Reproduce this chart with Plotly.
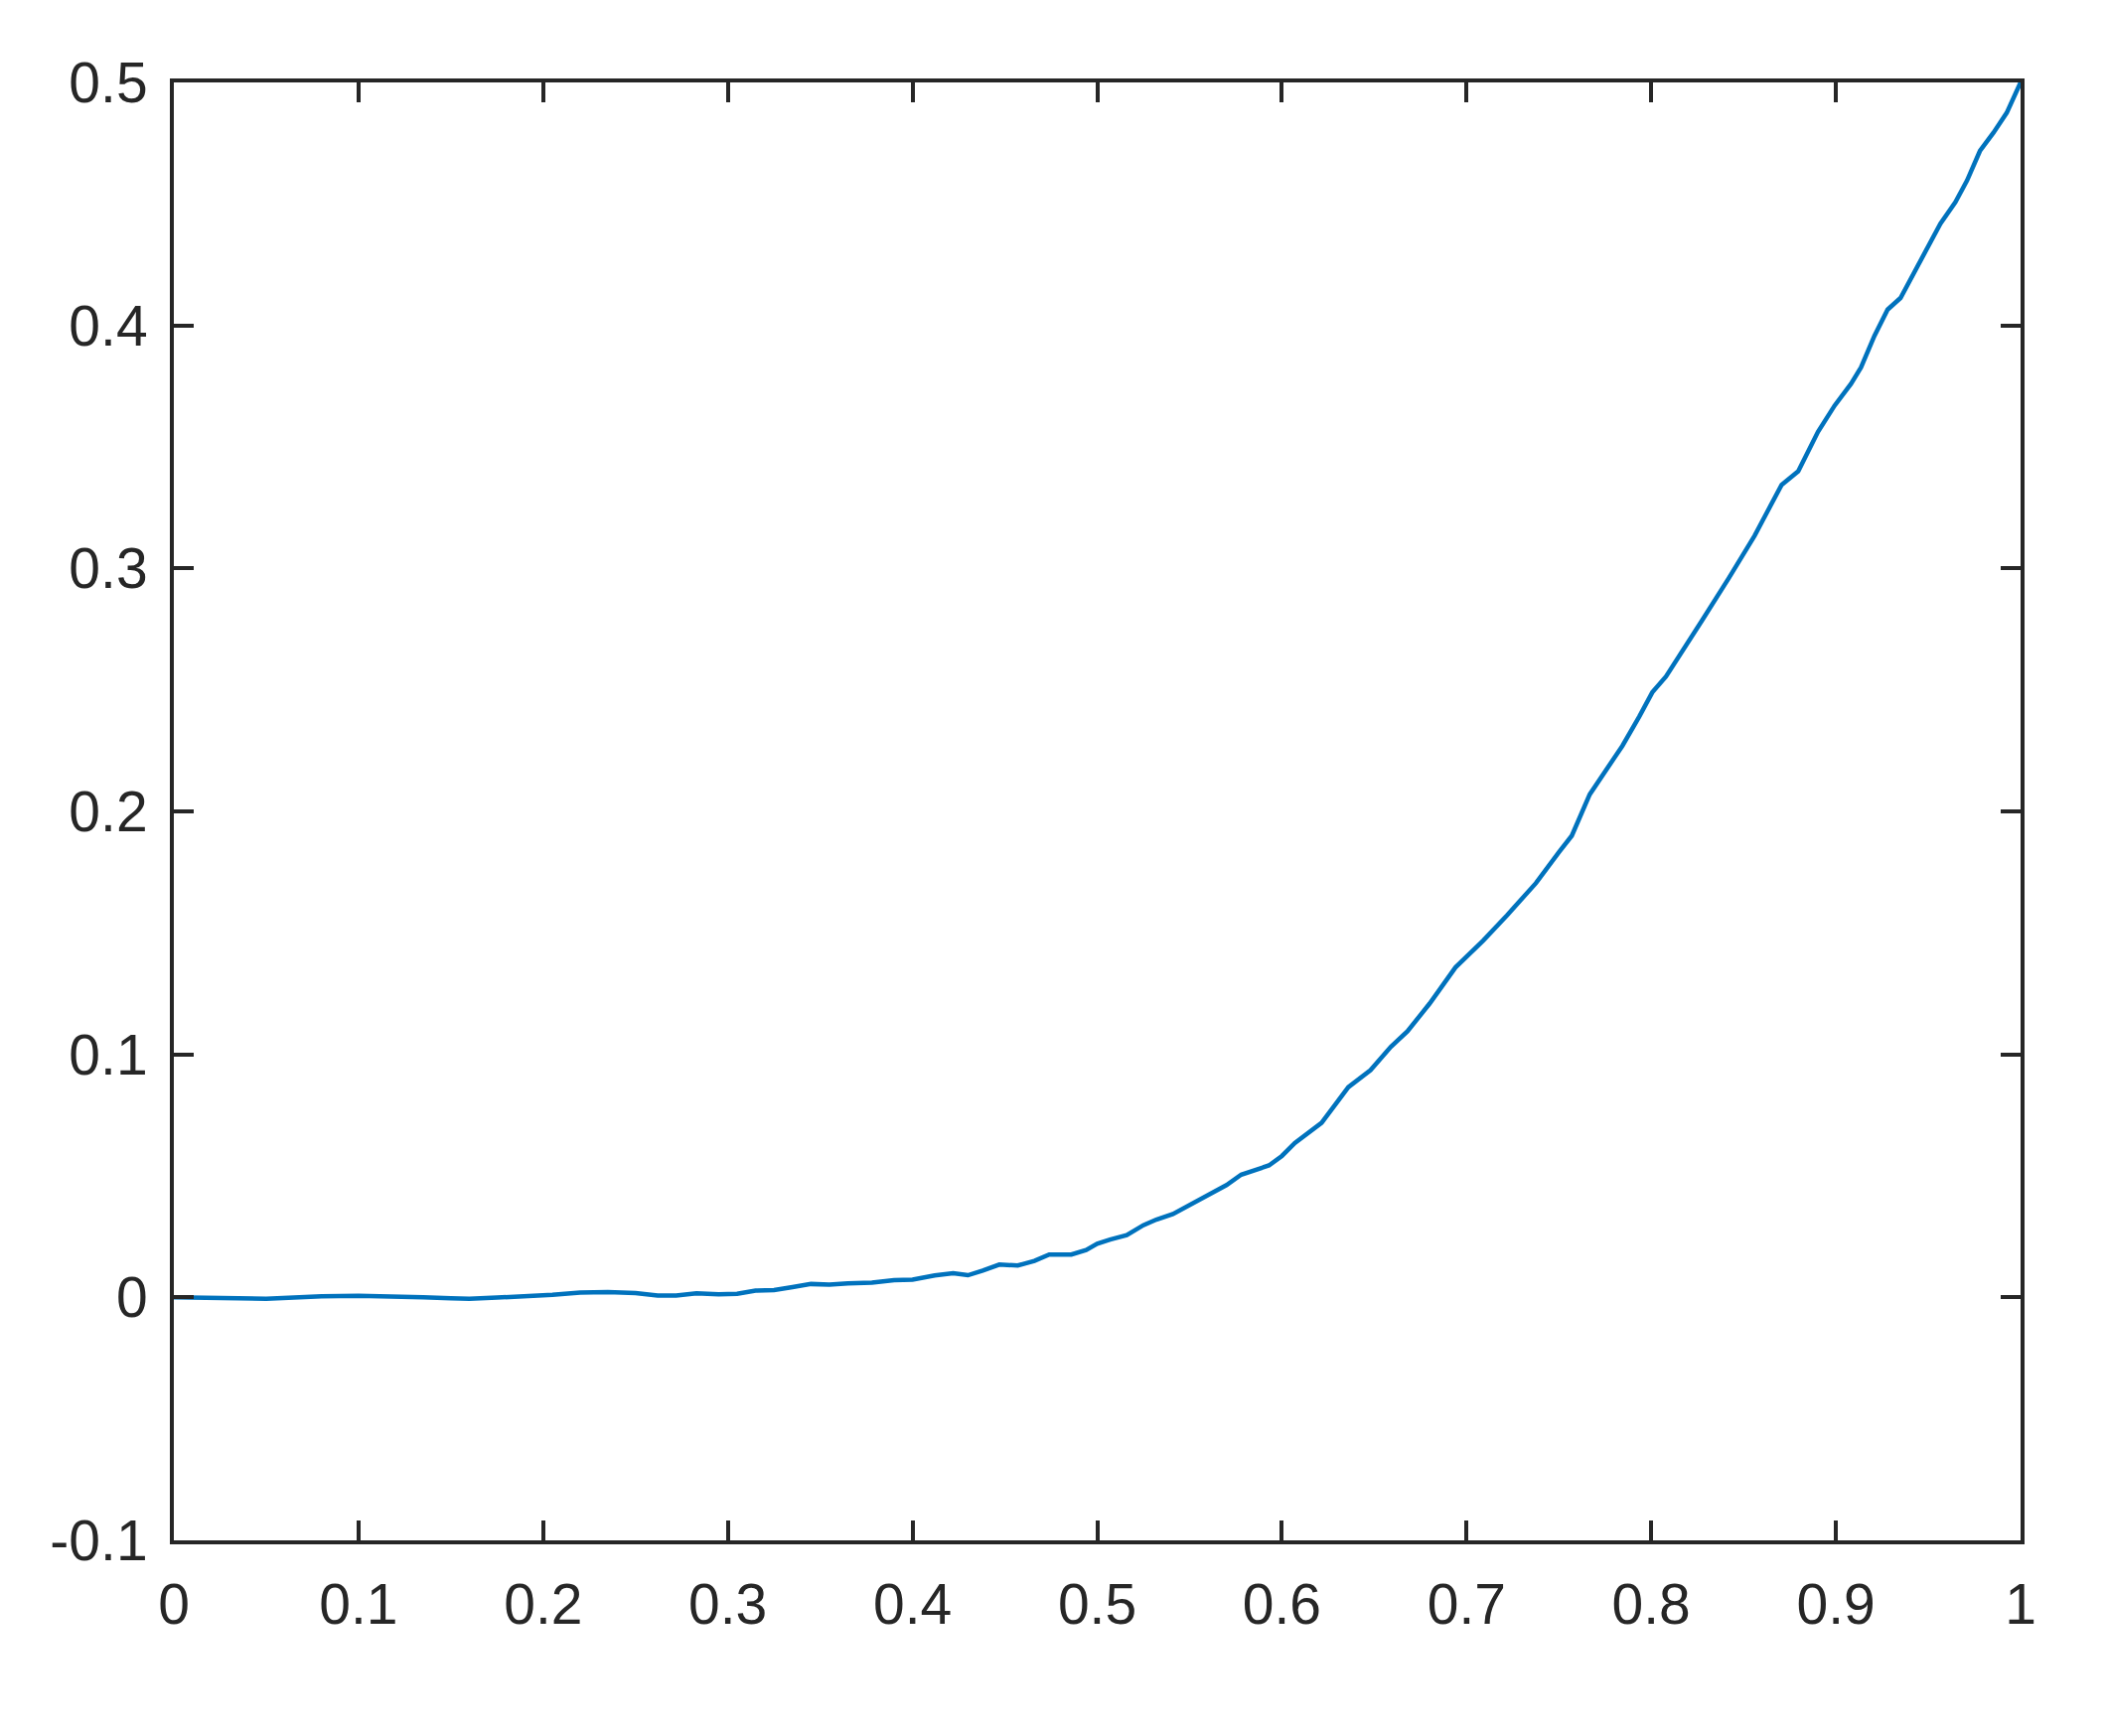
import plotly.graph_objects as go

# Curve values
x_vals = [0.0, 0.02, 0.035, 0.05, 0.065, 0.08, 0.1, 0.12, 0.135, 0.15,
          0.16, 0.175, 0.19, 0.205, 0.22, 0.235, 0.25, 0.262, 0.272, 0.283,
          0.295, 0.305, 0.315, 0.325, 0.335, 0.345, 0.355, 0.365, 0.378, 0.39,
          0.4, 0.412, 0.422, 0.43, 0.438, 0.447, 0.457, 0.466, 0.474, 0.486,
          0.494, 0.5, 0.507, 0.516, 0.525, 0.532, 0.541, 0.55, 0.562, 0.57,
          0.578, 0.593, 0.6, 0.607, 0.6215, 0.636, 0.648, 0.659, 0.668, 0.68,
          0.694, 0.709, 0.722, 0.7376, 0.75, 0.757, 0.7667, 0.7738, 0.7844, 0.7935,
          0.8006, 0.808, 0.818, 0.8276, 0.842, 0.856, 0.8706, 0.8796, 0.8903, 0.8993,
          0.9082, 0.9136, 0.9208, 0.928, 0.935, 0.944, 0.9504, 0.9566, 0.9647, 0.971,
          0.978, 0.9853, 0.9925, 1.0]
y_vals = [0.0, -0.0002, -0.0007, -0.0006, -0.0001, 0.0004, 0.0006, 0.0005, 0.0, -0.0004,
          -0.0006, -0.0001, 0.0003, 0.0011, 0.002, 0.0022, 0.0018, 0.0008, 0.0008, 0.0017,
          0.0013, 0.0015, 0.0028, 0.003, 0.0042, 0.0055, 0.0052, 0.0058, 0.0061, 0.0071,
          0.0073, 0.009, 0.0099, 0.0091, 0.011, 0.0135, 0.0131, 0.015, 0.0176, 0.0176,
          0.0195, 0.0221, 0.0238, 0.0256, 0.0297, 0.032, 0.0343, 0.038, 0.0425, 0.0462,
          0.0505, 0.0543, 0.0582, 0.0635, 0.0718, 0.0865, 0.0935, 0.1031, 0.1095, 0.1209,
          0.1358, 0.1468, 0.1573, 0.1705, 0.1832, 0.19, 0.207, 0.215, 0.227, 0.239,
          0.249, 0.2555, 0.267, 0.2787, 0.296, 0.3135, 0.3344, 0.34, 0.3562, 0.367,
          0.376, 0.3827, 0.3956, 0.4065, 0.4113, 0.4242, 0.4337, 0.4419, 0.4507, 0.4596,
          0.4718, 0.4793, 0.4875, 0.5]

# Tick labels
x_ticks = [0, 0.1, 0.2, 0.3, 0.4, 0.5, 0.6, 0.7, 0.8, 0.9, 1]
x_labels = ["0", "0.1", "0.2", "0.3", "0.4", "0.5", "0.6", "0.7", "0.8", "0.9", "1"]
y_ticks = [-0.1, 0, 0.1, 0.2, 0.3, 0.4, 0.5]
y_labels = ["-0.1", "0", "0.1", "0.2", "0.3", "0.4", "0.5"]

ink = "#262626"

fig = go.Figure()
fig.add_trace(go.Scatter(x=x_vals, y=y_vals, mode="lines",
                         line=dict(color="#0072BD", width=4.5),
                         showlegend=False))

axis_style = dict(showline=True, linecolor=ink, linewidth=4, mirror="ticks",
                  ticks="inside", ticklen=20, tickwidth=4, tickcolor=ink,
                  showgrid=False, zeroline=False,
                  tickfont=dict(family="Liberation Sans", size=57, color=ink))

fig.update_xaxes(range=[0, 1], tickvals=x_ticks, ticktext=x_labels,
                 ticklabelstandoff=12, **axis_style)
fig.update_yaxes(range=[-0.1, 0.5], tickvals=y_ticks, ticktext=y_labels,
                 ticklabelstandoff=11, **axis_style)

# the page adds a small body margin, so pull the plot box back by that much
fig.update_layout(width=2120, height=1748,
                  margin=dict(l=167, r=94, t=75, b=205),
                  plot_bgcolor="white", paper_bgcolor="white")

fig.write_html("out.html")
